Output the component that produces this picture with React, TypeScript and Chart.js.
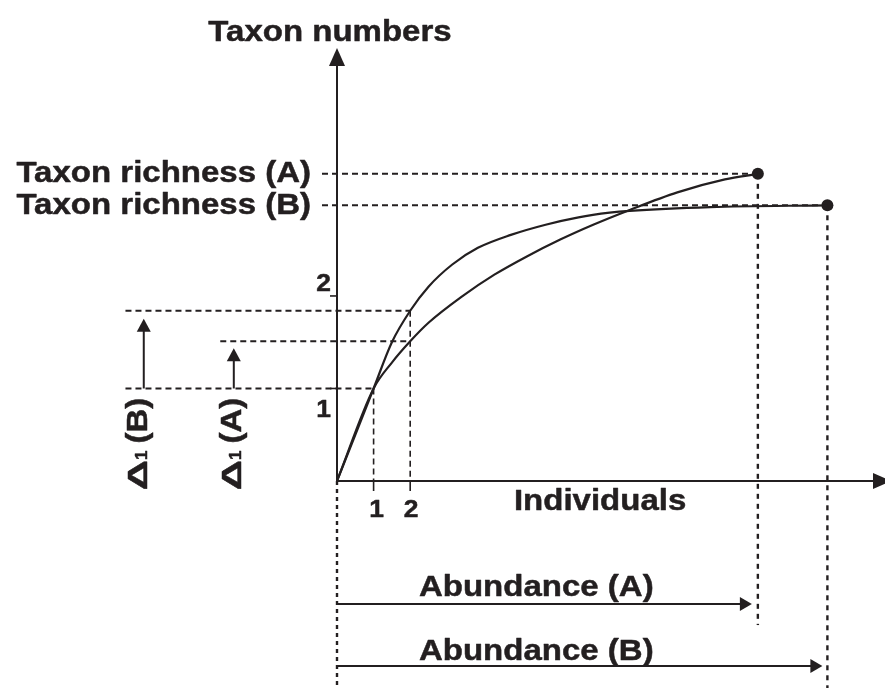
import React, { useEffect, useRef } from "react";
import { Chart, registerables } from "chart.js";

Chart.register(...registerables);

// ---------- values (x = individuals, y = taxon numbers) ----------
const individualsA = [0, 1, 1.5, 2, 2.5, 3.4, 4.3, 5.2, 6.1, 7.0, 8.0, 9.3, 10.6, 11.5];
const taxaA = [0, 1, 1.28, 1.51, 1.71, 1.99, 2.23, 2.43, 2.61, 2.77, 2.93, 3.12, 3.26, 3.32];
const individualsB = [0, 1, 1.5, 2, 2.5, 3.15, 3.85, 4.75, 5.7, 6.6, 7.45, 8.0, 10.2, 13.4];
const taxaB = [0, 1, 1.5, 1.84, 2.1, 2.34, 2.52, 2.66, 2.77, 2.85, 2.9, 2.92, 2.96, 2.98];
const seriesNames = ["A", "B"];
const xTickValues = [1, 2];
const xTickLabels = ["1", "2"];
const yTickValues = [1, 2];
const yTickLabels = ["1", "2"];
const xAxisTitle = "Individuals";
const yAxisTitle = "Taxon numbers";
const xAxisMax = 14.81;
const yAxisMax = 4.68;

// derived values
const abundanceA = individualsA[individualsA.length - 1];
const richnessA = taxaA[taxaA.length - 1];
const abundanceB = individualsB[individualsB.length - 1];
const richnessB = taxaB[taxaB.length - 1];
const taxaAat2 = taxaA[individualsA.indexOf(2)];
const taxaBat2 = taxaB[individualsB.indexOf(2)];

// ---------- layout (extents of guide lines, in axis units) ----------
const EXT = {
  richLeft: -0.41,
  deltaLeftB: -5.78,
  deltaLeftA: -3.19,
  bottom: -2.4,
  dropA: -1.557,
};

const INK = "#231f20";
const FONT = 'Arial, "Liberation Sans", Helvetica, sans-serif';
const SX = 1.1;
const EMBOLDEN = 0.5;

const pts = (xs: number[], ys: number[]) => xs.map((x, i) => ({ x, y: ys[i] }));

function dashed(data: { x: number; y: number }[], width = 2, dash = [6, 4]) {
  return {
    type: "line" as const,
    data,
    borderColor: INK,
    borderWidth: width,
    borderDash: dash,
    pointRadius: 0,
    tension: 0,
    fill: false,
    clip: false as any,
  };
}

function paint(ctx: CanvasRenderingContext2D, s: string, x: number, y: number) {
  ctx.fillText(s, x, y);
  ctx.lineWidth = EMBOLDEN;
  ctx.strokeStyle = INK;
  ctx.lineJoin = "round";
  ctx.setLineDash([]);
  ctx.strokeText(s, x, y);
}

function text(
  ctx: CanvasRenderingContext2D,
  s: string,
  x: number,
  y: number,
  size: number,
  align: CanvasTextAlign,
  baseline: CanvasTextBaseline = "alphabetic",
  sx = SX
) {
  ctx.save();
  ctx.translate(x, y);
  ctx.scale(sx, 1);
  ctx.font = `bold ${size}px ${FONT}`;
  ctx.textAlign = align;
  ctx.textBaseline = baseline;
  ctx.fillStyle = INK;
  paint(ctx, s, 0, 0);
  ctx.restore();
}

function arrowHead(ctx: CanvasRenderingContext2D, tx: number, ty: number, dx: number, dy: number, len: number, half: number) {
  const bx = tx - dx * len;
  const by = ty - dy * len;
  const nx = -dy;
  const ny = dx;
  ctx.beginPath();
  ctx.moveTo(tx, ty);
  ctx.lineTo(bx + nx * half, by + ny * half);
  ctx.lineTo(bx - nx * half, by - ny * half);
  ctx.closePath();
  ctx.fillStyle = INK;
  ctx.fill();
}

function segment(ctx: CanvasRenderingContext2D, x1: number, y1: number, x2: number, y2: number, w = 2) {
  ctx.beginPath();
  ctx.moveTo(x1, y1);
  ctx.lineTo(x2, y2);
  ctx.lineWidth = w;
  ctx.strokeStyle = INK;
  ctx.setLineDash([]);
  ctx.stroke();
}

function deltaLabel(ctx: CanvasRenderingContext2D, baseX: number, centerY: number, name: string) {
  ctx.save();
  ctx.translate(baseX, centerY);
  ctx.rotate(-Math.PI / 2);
  ctx.fillStyle = INK;
  ctx.textBaseline = "alphabetic";
  ctx.textAlign = "left";
  const dScale = 1.5;
  ctx.font = `bold 28px ${FONT}`;
  const wD = ctx.measureText("\u0394").width * dScale;
  ctx.font = `bold 17px ${FONT}`;
  const w1 = ctx.measureText("1").width;
  ctx.font = `bold 30px ${FONT}`;
  const wP = ctx.measureText(`(${name})`).width * SX;
  const gap = 7;
  const total = wD + w1 + gap + wP;
  let x = -total / 2;
  ctx.save();
  ctx.translate(x, 0);
  ctx.scale(dScale, 1);
  ctx.font = `bold 28px ${FONT}`;
  paint(ctx, "\u0394", 0, 0);
  ctx.restore();
  x += wD;
  ctx.font = `bold 17px ${FONT}`;
  paint(ctx, "1", x, 0);
  x += w1 + gap;
  ctx.save();
  ctx.translate(x, 0);
  ctx.scale(SX, 1);
  ctx.font = `bold 30px ${FONT}`;
  paint(ctx, `(${name})`, 0, 0);
  ctx.restore();
  ctx.restore();
}

const annotate = {
  id: "annotate",
  afterDatasetsDraw(chart: any) {
    const { ctx, chartArea, scales } = chart;
    const X = (v: number) => scales.x.getPixelForValue(v);
    const Y = (v: number) => scales.y.getPixelForValue(v);
    const x0 = X(0);
    const y0 = Y(0);
    ctx.save();

    // axes with arrow heads
    segment(ctx, x0, y0, x0, chartArea.top + 12, 2);
    arrowHead(ctx, x0, Y(yAxisMax), 0, -1, 18, 8);
    segment(ctx, x0, y0, X(xAxisMax), y0, 2);
    arrowHead(ctx, X(xAxisMax) + 12, y0, 1, 0, 18, 8);

    // ticks
    yTickValues.forEach((v) => segment(ctx, x0 - 7, Y(v), x0, Y(v), 1.6));
    xTickValues.forEach((v) => segment(ctx, X(v), y0, X(v), y0 + 10, 1.6));

    // tick labels
    text(ctx, yTickLabels[1], x0 - 6, Y(yTickValues[1]) - 5, 24, "right");
    text(ctx, yTickLabels[0], x0 - 6, Y(yTickValues[0]) + 29, 24, "right");
    text(ctx, xTickLabels[0], X(xTickValues[0]) + 3, y0 + 36, 24, "center");
    text(ctx, xTickLabels[1], X(xTickValues[1]) + 1, y0 + 36, 24, "center");

    // axis titles
    text(ctx, yAxisTitle, x0 - 7, chartArea.top - 7, 30, "center");
    text(ctx, xAxisTitle, X(7.19), y0 + 29, 30, "center");

    // richness labels
    text(ctx, `Taxon richness (${seriesNames[0]})`, x0 - 26, Y(richnessA), 30, "right", "middle");
    text(ctx, `Taxon richness (${seriesNames[1]})`, x0 - 26, Y(richnessB), 30, "right", "middle");

    // delta arrows
    const xdB = X(-5.28);
    const xdA = X(-2.82);
    segment(ctx, xdB, Y(1), xdB, Y(taxaBat2) + 14, 2);
    arrowHead(ctx, xdB, Y(taxaBat2) + 8, 0, -1, 13, 7);
    segment(ctx, xdA, Y(1), xdA, Y(taxaAat2) + 12, 2);
    arrowHead(ctx, xdA, Y(taxaAat2) + 7, 0, -1, 13, 7);
    deltaLabel(ctx, X(-5.19), Y(0.4), seriesNames[1]);
    deltaLabel(ctx, X(-2.62), Y(0.4), seriesNames[0]);

    // abundance arrows
    const yAbA = y0 + 123;
    const yAbB = y0 + 185;
    segment(ctx, x0, yAbA, X(abundanceA) - 14, yAbA, 2);
    arrowHead(ctx, X(abundanceA) - 6, yAbA, 1, 0, 12, 7);
    segment(ctx, x0, yAbB, X(abundanceB) - 14, yAbB, 2);
    arrowHead(ctx, X(abundanceB) - 5, yAbB, 1, 0, 12, 7);
    text(ctx, `Abundance (${seriesNames[0]})`, X(2.24), y0 + 115, 30, "left");
    text(ctx, `Abundance (${seriesNames[1]})`, X(2.24), y0 + 179, 30, "left");

    ctx.restore();
  },
};

export default function App() {
  const ref = useRef<HTMLCanvasElement>(null);

  useEffect(() => {
    if (!ref.current) return;
    const chart = new Chart(ref.current, {
      type: "line",
      data: {
        datasets: [
          {
            label: seriesNames[0],
            data: pts(individualsA, taxaA),
            borderColor: INK,
            borderWidth: 2.2,
            pointRadius: 0,
            cubicInterpolationMode: "monotone",
            fill: false,
          },
          {
            label: seriesNames[1],
            data: pts(individualsB, taxaB),
            borderColor: INK,
            borderWidth: 2.2,
            pointRadius: 0,
            cubicInterpolationMode: "monotone",
            fill: false,
          },
          dashed([{ x: EXT.richLeft, y: richnessA }, { x: abundanceA, y: richnessA }]),
          dashed([{ x: EXT.richLeft, y: richnessB }, { x: abundanceB, y: richnessB }]),
          dashed([{ x: abundanceA, y: richnessA }, { x: abundanceA, y: EXT.dropA }], 2.4, [5, 5]),
          dashed([{ x: abundanceB, y: richnessB }, { x: abundanceB, y: EXT.bottom }], 2.4, [5, 5]),
          dashed([{ x: 0, y: 0 }, { x: 0, y: EXT.bottom }], 2.4, [4, 4]),
          dashed([{ x: EXT.deltaLeftB, y: 1 }, { x: 1, y: 1 }]),
          dashed([{ x: EXT.deltaLeftB, y: taxaBat2 }, { x: 2, y: taxaBat2 }]),
          dashed([{ x: EXT.deltaLeftA, y: taxaAat2 }, { x: 2, y: taxaAat2 }]),
          dashed([{ x: 1, y: 1 }, { x: 1, y: 0 }], 1.6),
          dashed([{ x: 2, y: taxaBat2 }, { x: 2, y: 0 }], 1.6),
          {
            type: "scatter" as any,
            label: "ends",
            data: [
              { x: abundanceA, y: richnessA },
              { x: abundanceB, y: richnessB },
            ],
            showLine: false,
            pointRadius: 6,
            pointBackgroundColor: INK,
            pointBorderColor: INK,
            pointBorderWidth: 0,
            clip: false as any,
          },
        ] as any,
      },
      options: {
        animation: false,
        responsive: true,
        maintainAspectRatio: false,
        devicePixelRatio: 1,
        events: [],
        layout: { padding: { left: 337, top: 48, right: 0, bottom: 207 } },
        scales: {
          x: { type: "linear", min: 0, max: xAxisMax, display: false },
          y: { type: "linear", min: 0, max: yAxisMax, display: false },
        },
        plugins: {
          legend: { display: false },
          tooltip: { enabled: false },
          title: { display: false },
        },
      },
      plugins: [annotate],
    });
    return () => chart.destroy();
  }, []);

  return (
    <div style={{ position: "absolute", left: 0, top: 0, width: 885, height: 688, background: "#fff" }}>
      <canvas ref={ref} />
    </div>
  );
}
